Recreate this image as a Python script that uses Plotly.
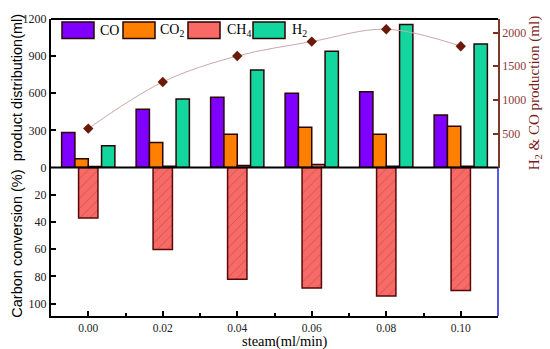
import plotly.graph_objects as go

# ---- data ----
steam = [0.00, 0.02, 0.04, 0.06, 0.08, 0.10]
tick_text = ["0.00", "0.02", "0.04", "0.06", "0.08", "0.10"]
minor_ticks = [0.01, 0.03, 0.05, 0.07, 0.09]

co = [282, 471, 568, 600, 613, 424]
co2 = [71, 203, 268, 326, 268, 334]
ch4 = [8, 10, 16, 25, 10, 10]
h2 = [176, 553, 787, 939, 1155, 997]

carbon_conversion = [37.1, 60.2, 82.0, 88.4, 94.4, 90.3]
h2_co_production = [576, 1267, 1652, 1865, 2049, 1797]

series_names = ["CO", "CO<sub>2</sub>", "CH<sub>4</sub>", "H<sub>2</sub>"]
series_colors = ["#8000ff", "#ff8000", "#f76a66", "#12d69e"]

left_ticks_top = [0, 300, 600, 900, 1200]
left_ticks_bottom = [20, 40, 60, 80, 100]
right_ticks = [500, 1000, 1500, 2000]

# ---- figure ----
W, H = 550, 349
ML, MR, MT, MB = 51, 52, 12, 33
PW, PH = W - ML - MR, H - MT - MB


def px_x(x):
    return (x - ML) / PW


def px_y(y):
    return (H - MB - y) / PH


serif = "Liberation Serif"
sans = "Liberation Sans"
edge = "#2a0505"

fig = go.Figure()
for name, vals, col in zip(series_names, [co, co2, ch4, h2], series_colors):
    fig.add_trace(go.Bar(
        x=steam, y=vals, name=name, xaxis="x", yaxis="y",
        marker=dict(color=col, line=dict(color=edge, width=1.5)),
        showlegend=False,
    ))

fig.add_trace(go.Bar(
    x=steam, y=carbon_conversion, xaxis="x", yaxis="y2", width=0.0052,
    marker=dict(color="#f76a66", line=dict(color="#5a0808", width=1.5),
                pattern=dict(shape="/", fgcolor="#9a3a32", size=7, solidity=0.12)),
    showlegend=False,
))

fig.add_trace(go.Scatter(
    x=steam, y=h2_co_production, xaxis="x", yaxis="y3",
    mode="lines+markers",
    line=dict(color="#c9a8a8", width=1, shape="spline", smoothing=1.0),
    marker=dict(symbol="diamond", size=8, color="#6b1a0a"),
    showlegend=False,
))

tickfont = dict(family=serif, size=12, color="#222222")

fig.update_layout(
    width=W, height=H,
    margin=dict(l=ML, r=MR, t=MT, b=MB),
    paper_bgcolor="white", plot_bgcolor="white",
    barmode="group", bargap=0.285, bargroupgap=0,
    showlegend=False,
    xaxis=dict(
        domain=[0, 1], anchor="y2", range=[-0.01, 0.11],
        tickmode="array", tickvals=steam, ticktext=tick_text,
        ticks="inside", ticklen=5, tickwidth=1.5, tickcolor="black",
        minor=dict(tickmode="array", tickvals=minor_ticks, ticks="inside", ticklen=3, tickwidth=1.5, tickcolor="black"),
        showline=True, linecolor="black", linewidth=2,
        showgrid=False, zeroline=False, tickfont=dict(family=serif, size=11.5, color="#222222"),
    ),
    yaxis=dict(
        domain=[0.5, 1], anchor="x", range=[0, 1200],
        tickmode="array", tickvals=left_ticks_top,
        ticks="inside", ticklen=5, tickwidth=1.5, tickcolor="black",
        showline=True, linecolor="black", linewidth=2,
        showgrid=False, zeroline=False, tickfont=tickfont,
    ),
    yaxis2=dict(
        domain=[0, 0.5], anchor="x", range=[109, 0],
        tickmode="array", tickvals=left_ticks_bottom,
        ticks="inside", ticklen=5, tickwidth=1.5, tickcolor="black",
        showline=True, linecolor="black", linewidth=2,
        showgrid=False, zeroline=False, tickfont=tickfont,
    ),
    yaxis3=dict(
        overlaying="y", side="right", anchor="x", range=[0, 2200],
        tickmode="array", tickvals=right_ticks,
        ticks="inside", ticklen=5, tickwidth=1.5, tickcolor="#7a3020",
        showline=True, linecolor="#7a3a28", linewidth=1.5,
        showgrid=False, zeroline=False,
        tickfont=dict(family=serif, size=12, color="#8b3a3a"),
    ),
)

shapes = [
    dict(type="line", xref="paper", yref="paper", x0=0, x1=1, y0=1, y1=1,
         line=dict(color="black", width=2)),
    dict(type="line", xref="paper", yref="paper", x0=0, x1=1, y0=0.5, y1=0.5,
         line=dict(color="black", width=2)),
    dict(type="line", xref="paper", yref="paper", x0=1, x1=1, y0=0, y1=0.5,
         line=dict(color="#2222dd", width=1.5)),
]

# legend drawn as wide boxes like the reference
box_left = [62, 123, 188, 253]
text_left = [98, 158, 225, 290]
annotations = []
for name, col, bl, tl in zip(series_names, series_colors, box_left, text_left):
    shapes.append(dict(type="rect", xref="paper", yref="paper",
                       x0=px_x(bl), x1=px_x(bl + 32), y0=px_y(32), y1=px_y(15),
                       fillcolor=col, line=dict(color=edge, width=1.5)))
    annotations.append(dict(text=name, xref="paper", yref="paper",
                            x=px_x(tl), y=px_y(24), xanchor="left", yanchor="middle",
                            showarrow=False, font=dict(family=serif, size=14, color="black")))

annotations += [
    dict(text="product distribution(ml)", xref="paper", yref="paper",
         x=0, xshift=17 - ML, y=px_y(83), textangle=-90, showarrow=False,
         xanchor="center", yanchor="middle", font=dict(family=sans, size=14.5, color="black")),
    dict(text="Carbon conversion (%)", xref="paper", yref="paper",
         x=0, xshift=17 - ML, y=px_y(242), textangle=-90, showarrow=False,
         xanchor="center", yanchor="middle", font=dict(family=sans, size=14.5, color="black")),
    dict(text="H<sub>2</sub> &amp; CO production (ml)", xref="paper", yref="paper",
         x=1, xshift=535 - (ML + PW), y=px_y(88), textangle=-90, showarrow=False,
         xanchor="center", yanchor="middle", font=dict(family=serif, size=15, color="#7b1b1b")),
    dict(text="steam(ml/min)", xref="paper", yref="paper",
         x=px_x(285), y=0, yshift=-(341.5 - (H - MB)), showarrow=False,
         xanchor="center", yanchor="middle", font=dict(family=serif, size=14.5, color="black")),
]

fig.update_layout(shapes=shapes, annotations=annotations)
fig.write_html(
    "out.html",
    config={"displayModeBar": False},
    post_script="document.body.style.margin='0';document.body.style.overflow='hidden';",
)
